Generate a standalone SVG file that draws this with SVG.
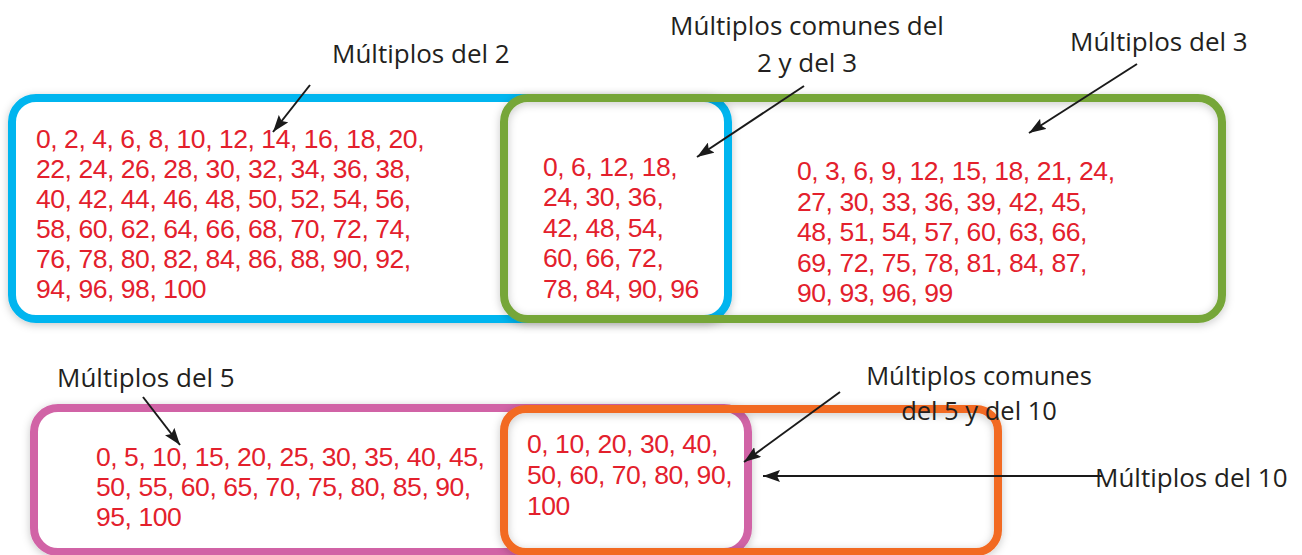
<svg xmlns="http://www.w3.org/2000/svg" width="1302" height="555" viewBox="0 0 1302 555">
<style>
.box{fill:none;stroke-width:8}
.num{font-family:"Liberation Sans",Arial,sans-serif;font-size:26.5px;letter-spacing:-0.45px;fill:#e3202c}
.lbl{font-family:"Open Sans","Noto Sans",sans-serif;font-size:26px;fill:#231f20}
.lbs{font-size:25.5px}
.arr{stroke:#1a1a1a;stroke-width:2;fill:none;marker-end:url(#ah)}
</style>
<defs>
<marker id="ah" markerUnits="userSpaceOnUse" markerWidth="18" markerHeight="12" refX="17" refY="6" orient="auto">
<path d="M0,0 L17,6 L0,12 L3,6 z" fill="#1a1a1a"/>
</marker>
<filter id="sh" x="-5%" y="-10%" width="110%" height="120%">
<feDropShadow dx="0" dy="2" stdDeviation="4" flood-color="#000" flood-opacity="0.22"/>
</filter>
</defs>
<rect width="1302" height="555" fill="#ffffff"/>

<g id="multiplos-2">
<rect x="12" y="98" width="716" height="221" rx="24" fill="#ffffff" stroke="#00b5ef" stroke-width="8" filter="url(#sh)"/>
<text class="num" x="36" y="148">0, 2, 4, 6, 8, 10, 12, 14, 16, 18, 20,</text>
<text class="num" x="36" y="178">22, 24, 26, 28, 30, 32, 34, 36, 38,</text>
<text class="num" x="36" y="208">40, 42, 44, 46, 48, 50, 52, 54, 56,</text>
<text class="num" x="36" y="238">58, 60, 62, 64, 66, 68, 70, 72, 74,</text>
<text class="num" x="36" y="268">76, 78, 80, 82, 84, 86, 88, 90, 92,</text>
<text class="num" x="36" y="298">94, 96, 98, 100</text>
</g>

<g id="multiplos-3">
<rect class="box" x="504" y="98" width="718" height="221" rx="24" stroke="#76a639" filter="url(#sh)"/>
<text class="num" x="797" y="180">0, 3, 6, 9, 12, 15, 18, 21, 24,</text>
<text class="num" x="797" y="210.5">27, 30, 33, 36, 39, 42, 45,</text>
<text class="num" x="797" y="241">48, 51, 54, 57, 60, 63, 66,</text>
<text class="num" x="797" y="271.5">69, 72, 75, 78, 81, 84, 87,</text>
<text class="num" x="797" y="302">90, 93, 96, 99</text>
</g>

<g id="comunes-2-3">
<text class="num" x="543" y="176">0, 6, 12, 18,</text>
<text class="num" x="543" y="206">24, 30, 36,</text>
<text class="num" x="543" y="236.5">42, 48, 54,</text>
<text class="num" x="543" y="267">60, 66, 72,</text>
<text class="num" x="543" y="297.5">78, 84, 90, 96</text>
</g>

<g id="multiplos-5">
<rect x="34" y="408" width="714" height="144" rx="24" fill="#ffffff" stroke="#d163a6" stroke-width="8" filter="url(#sh)"/>
<text class="num" x="96" y="466">0, 5, 10, 15, 20, 25, 30, 35, 40, 45,</text>
<text class="num" x="96" y="496">50, 55, 60, 65, 70, 75, 80, 85, 90,</text>
<text class="num" x="96" y="526">95, 100</text>
</g>

<g id="multiplos-10">
<rect class="box" x="504" y="409" width="494" height="143" rx="22" stroke="#f26a21" filter="url(#sh)"/>
</g>

<g id="comunes-5-10">
<text class="num" x="527" y="453">0, 10, 20, 30, 40,</text>
<text class="num" x="527" y="484">50, 60, 70, 80, 90,</text>
<text class="num" x="527" y="515">100</text>
</g>

<g id="labels">
<text class="lbl" x="332" y="63">Múltiplos del 2</text>
<text class="lbl" x="807" y="35" text-anchor="middle">Múltiplos comunes del</text>
<text class="lbl" x="807" y="72" text-anchor="middle">2 y del 3</text>
<text class="lbl" x="1070" y="51">Múltiplos del 3</text>
<text class="lbl" x="57" y="387">Múltiplos del 5</text>
<text class="lbl lbs" x="979" y="385" text-anchor="middle">Múltiplos comunes</text>
<text class="lbl lbs" x="979" y="420" text-anchor="middle">del 5 y del 10</text>
<text class="lbl" x="1095" y="487">Múltiplos del 10</text>
</g>

<g id="connectors">
<line class="arr" x1="310" y1="85" x2="273" y2="132"/>
<line class="arr" x1="804" y1="86" x2="697" y2="157"/>
<line class="arr" x1="1137" y1="64" x2="1029" y2="133"/>
<line class="arr" x1="143" y1="397" x2="180" y2="445"/>
<line class="arr" x1="840" y1="392" x2="744" y2="462"/>
<line class="arr" x1="1102" y1="476" x2="763" y2="476"/>
</g>
</svg>
